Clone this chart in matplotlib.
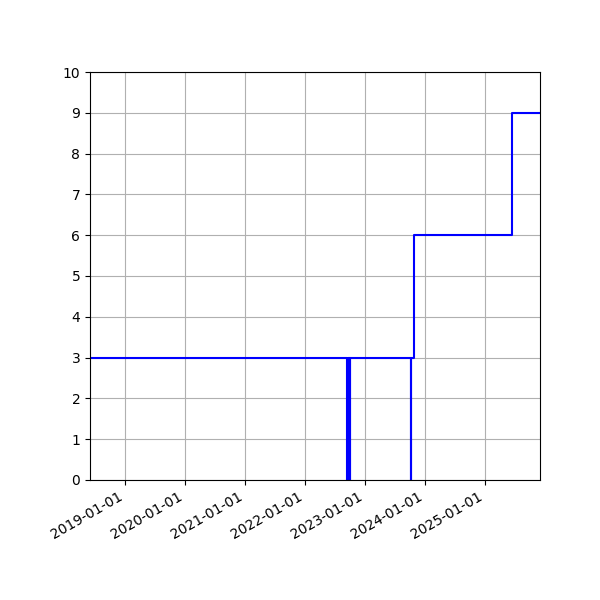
import matplotlib
matplotlib.use("Agg")
import matplotlib.pyplot as plt
import matplotlib.dates as mdates
import pandas as pd

# change dates and the count after each change
dates = [
    "2018-06-01", "2022-09-15", "2022-09-16", "2022-09-24", "2022-09-25",
    "2022-10-03", "2022-10-04", "2023-10-08", "2023-10-09", "2023-10-28",
    "2025-06-12", "2025-12-01",
]
counts = [3, 0, 3, 0, 3, 0, 3, 0, 3, 6, 9, 9]

x = pd.to_datetime(dates)

fig, ax = plt.subplots(figsize=(6, 6), dpi=100)
ax.plot(x, counts, drawstyle="steps-post", color="blue", lw=1.5)
ax.set_xlim(x[0], x[-1])
ax.set_ylim(0, 10)
ax.set_yticks(range(0, 11))
ax.xaxis.set_major_locator(mdates.YearLocator())
ax.xaxis.set_major_formatter(mdates.DateFormatter("%Y-%m-%d"))
ax.grid(True)
fig.autofmt_xdate()
fig.subplots_adjust(left=0.15, right=0.9, top=0.88, bottom=0.2)
fig.savefig("out.png")
